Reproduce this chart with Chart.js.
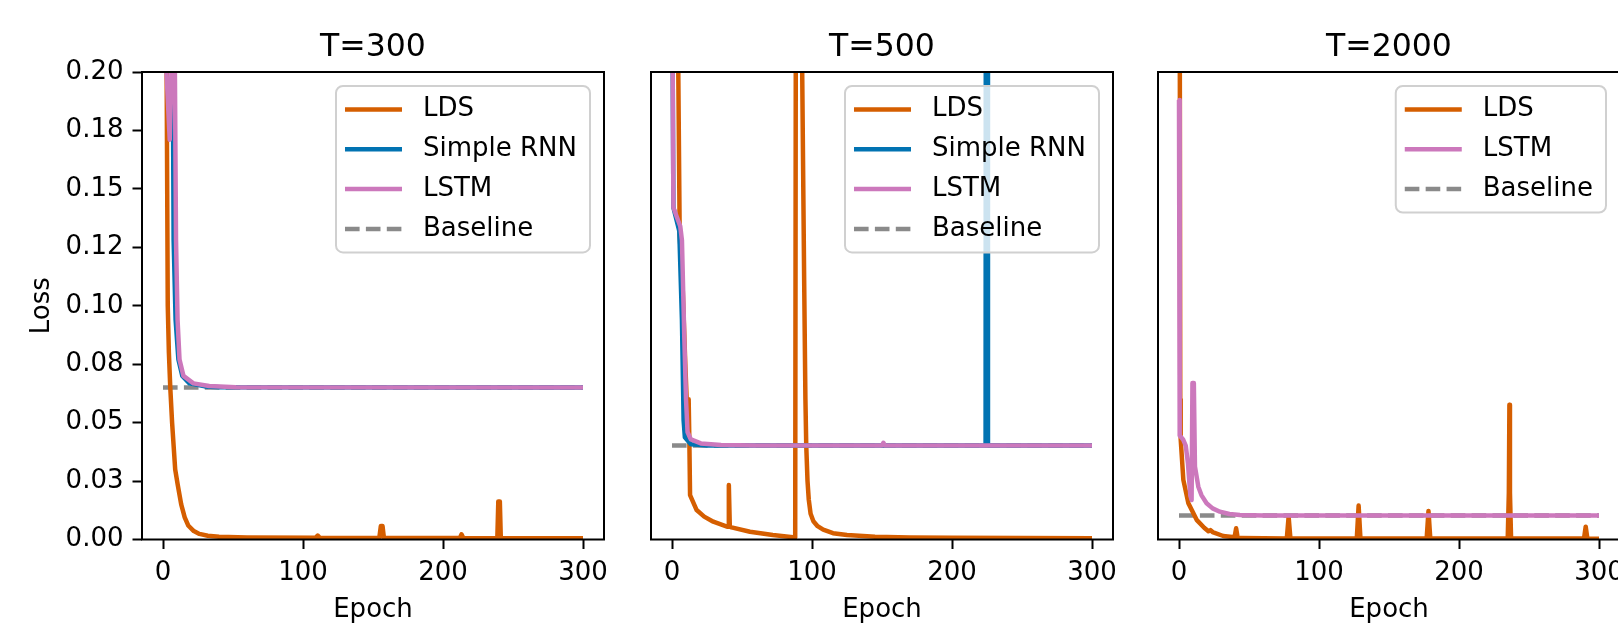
<!DOCTYPE html>
<html>
<head>
<meta charset="utf-8">
<script src="https://cdn.jsdelivr.net/npm/chart.js@4.4.1/dist/chart.umd.min.js"></script>
<style>
  html, body { margin: 0; padding: 0; background: #fff; overflow: hidden; }
  #wrap { position: relative; width: 1618px; height: 627px; overflow: hidden; }
  canvas { position: absolute; top: 0; }
</style>
</head>
<body>
<div id="wrap">
  <canvas id="c300" width="640" height="627" style="left:0px"></canvas>
  <canvas id="c500" width="640" height="627" style="left:509px"></canvas>
  <canvas id="c2000" width="640" height="627" style="left:1016px"></canvas>
</div>
<script>
// axis ticks
const epochTicks = [0, 100, 200, 300];
const lossTicks = [0, 0.025, 0.05, 0.075, 0.1, 0.125, 0.15, 0.175, 0.2];
const lossTickLabels = ['0.00', '0.03', '0.05', '0.08', '0.10', '0.12', '0.15', '0.18', '0.20'];
const panelTitles = ['T=300', 'T=500', 'T=2000'];

// T=300  [epoch, loss]
const lds300 = [[0, 0.9], [2.6, 0.2], [3.4, 0.1], [4.2, 0.08], [5.2, 0.065], [6.5, 0.05], [8.7, 0.03],
  [10.5, 0.0235], [13, 0.015], [15.5, 0.0095], [18, 0.006], [22, 0.0036], [26, 0.0024], [32, 0.0016],
  [40, 0.0012], [60, 0.0009], [109, 0.0007], [110.5, 0.0017], [112, 0.0007], [154.5, 0.0006],
  [155.6, 0.0058], [156.8, 0.0058], [157.8, 0.0006], [212, 0.0006], [213.2, 0.0022], [214.5, 0.0006],
  [238.8, 0.0005], [239.5, 0.0163], [240.6, 0.0163], [241.3, 0.0005], [300, 0.0005]];
const rnn300 = [[0, 0.35], [7, 0.2], [7.6, 0.128], [9, 0.094], [11, 0.077], [13.8, 0.07], [18.9, 0.0668],
  [30, 0.0655], [41, 0.0651], [300, 0.065]];
const lstm300 = [[0, 0.3], [2.5, 0.2], [4.8, 0.171], [6, 0.2], [7, 0.24], [8.5, 0.2], [9.3, 0.128],
  [10.4, 0.094], [11.8, 0.077], [14.6, 0.07], [21.7, 0.0668], [33, 0.0657], [52, 0.0651], [300, 0.065]];
const base300 = [[0, 0.065], [300, 0.065]];

// T=500
const lds500 = [[0, 0.6], [4.5, 0.2], [5.5, 0.13], [7.5, 0.11], [9.5, 0.075], [10.5, 0.06], [11.3, 0.043],
  [11.9, 0.06], [12.4, 0.042], [12.9, 0.019], [17.6, 0.0126], [23, 0.0098], [29.5, 0.0076], [39.3, 0.0055],
  [40, 0.0055], [40.6, 0.0233], [41.3, 0.0055], [42.5, 0.0052], [55.7, 0.0033], [72, 0.0019], [88, 0.0009],
  [88.6, 0.3], [90, 0.8], [92, 0.4], [93, 0.2], [94.4, 0.111], [95.3, 0.06], [95.9, 0.04], [96.8, 0.025],
  [97.7, 0.017], [99, 0.011], [101, 0.0078], [104, 0.0057], [108, 0.0042], [115, 0.0027], [125, 0.0019],
  [145, 0.0012], [170, 0.0009], [200, 0.0007], [300, 0.0005]];
const rnn500 = [[0, 0.6], [0.5, 0.2], [1, 0.142], [5.2, 0.132], [7.1, 0.094], [8.3, 0.051], [9.2, 0.0437],
  [13.5, 0.0407], [25, 0.0402], [224, 0.0402], [224.4, 0.6], [225.3, 0.6], [225.7, 0.0402], [300, 0.0402]];
const lstm500 = [[0, 0.6], [0.5, 0.2], [1, 0.142], [2.8, 0.139], [5.9, 0.134], [7.1, 0.128], [8.8, 0.086],
  [10, 0.06], [11.1, 0.046], [13.5, 0.0428], [20.6, 0.0411], [35, 0.0404], [60, 0.0402], [150, 0.0402],
  [151, 0.0414], [152, 0.0402], [300, 0.0402]];
const base500 = [[0, 0.0402], [300, 0.0402]];

// T=2000
const lds2000 = [[0, 0.9], [0.6, 0.2], [0.9, 0.06], [1.2, 0.043], [3.1, 0.0255], [6.7, 0.0155], [12.6, 0.0084],
  [18, 0.005], [21, 0.0035], [22.5, 0.004], [24, 0.0032], [31.6, 0.0015], [39.7, 0.001], [40.8, 0.0048],
  [41.9, 0.0008], [43.5, 0.0006], [77, 0.0004], [78.3, 0.0098], [79.6, 0.0004], [127, 0.0004], [128.3, 0.0145],
  [129.6, 0.0004], [176.9, 0.0004], [178.2, 0.0122], [179.5, 0.0004], [234.8, 0.0004], [235.6, 0.02],
  [236, 0.0576], [236.4, 0.02], [237.2, 0.0004], [289.3, 0.0004], [290.5, 0.0055], [291.7, 0.0004], [300, 0.0003]];
const lstm2000 = [[0, 0.188], [0.5, 0.0445], [2.9, 0.0428], [4.8, 0.0402], [6.4, 0.0325], [8.1, 0.0188],
  [9, 0.0169], [9.6, 0.0669], [10.6, 0.0669], [11.4, 0.0312], [13.8, 0.0226], [16, 0.019], [19.7, 0.0155],
  [24, 0.0133], [29.2, 0.0119], [36, 0.0109], [43.5, 0.0105], [60, 0.0103], [300, 0.0103]];
const base2000 = [[0, 0.0103], [300, 0.0103]];

const styles = {
  'LDS':        { color: '#D55E00', order: 2 },
  'Simple RNN': { color: '#0173B2', order: 1 },
  'LSTM':       { color: '#CC78BC', order: 0 },
  'Baseline':   { color: '#8a8a8a', order: 3, dash: [14.6, 6.3] }
};

const panels = [
  { id: 'c300', series: [['LDS', lds300], ['Simple RNN', rnn300], ['LSTM', lstm300], ['Baseline', base300]] },
  { id: 'c500', series: [['LDS', lds500], ['Simple RNN', rnn500], ['LSTM', lstm500], ['Baseline', base500]] },
  { id: 'c2000', series: [['LDS', lds2000], ['LSTM', lstm2000], ['Baseline', base2000]] }
];

const FONT = '"DejaVu Sans", sans-serif';

// spines + legend box inside the axes, drawn over the lines
const frameLegend = {
  id: 'frameLegend',
  afterDatasetsDraw(chart) {
    const {ctx, chartArea: a} = chart;
    ctx.save();
    ctx.strokeStyle = '#000';
    ctx.lineWidth = 2;
    ctx.strokeRect(a.left, a.top, a.right - a.left, a.bottom - a.top);

    const items = chart.data.datasets;
    ctx.font = '26px ' + FONT;
    const textW = Math.max(...items.map(d => ctx.measureText(d.label).width));
    const w = 87 + textW + 13;
    const h = 23.5 + (items.length - 1) * 39.8 + 23.5;
    const x = a.right - 14 - w, y = a.top + 14;
    ctx.beginPath();
    ctx.roundRect(x, y, w, h, 7);
    ctx.fillStyle = 'rgba(255,255,255,0.8)';
    ctx.fill();
    ctx.strokeStyle = '#d0d0d0';
    ctx.lineWidth = 2;
    ctx.stroke();
    items.forEach((d, i) => {
      const cy = y + 23.5 + i * 39.8;
      ctx.beginPath();
      ctx.setLineDash(d.borderDash || []);
      ctx.strokeStyle = d.borderColor;
      ctx.lineWidth = d.borderWidth;
      ctx.moveTo(x + 9, cy);
      ctx.lineTo(x + 66, cy);
      ctx.stroke();
      ctx.setLineDash([]);
      ctx.fillStyle = '#000';
      ctx.textBaseline = 'middle';
      ctx.textAlign = 'left';
      ctx.fillText(d.label, x + 87, cy);
    });
    ctx.restore();
  }
};

panels.forEach((p, k) => {
  const first = k === 0;
  new Chart(document.getElementById(p.id), {
    type: 'line',
    data: {
      datasets: p.series.map(([name, pts]) => ({
        label: name,
        data: pts.map(([x, y]) => ({x, y})),
        borderColor: styles[name].color,
        borderWidth: 4.5,
        borderDash: styles[name].dash || [],
        order: styles[name].order,
        pointRadius: 0,
        tension: 0,
        borderJoinStyle: 'round',
        clip: 0
      }))
    },
    options: {
      responsive: false,
      animation: false,
      events: [],
      layout: { padding: { left: 0, right: 36, top: 0, bottom: 0 } },
      plugins: {
        legend: { display: false },
        tooltip: { enabled: false },
        title: {
          display: true,
          fullSize: false,
          text: panelTitles[k],
          color: '#000',
          font: { family: FONT, size: 31.5, weight: 'normal', lineHeight: 1.2 },
          padding: { top: 29, bottom: 5.2 }
        }
      },
      scales: {
        x: {
          type: 'linear',
          min: -15,
          max: 315,
          afterFit: s => { s.height = 87.5; },
          afterBuildTicks: s => { s.ticks = epochTicks.map(v => ({ value: v })); },
          border: { display: false },
          grid: { drawOnChartArea: false, drawTicks: true, tickLength: 9.5, tickWidth: 2, tickColor: '#000', color: '#000' },
          ticks: { color: '#000', padding: 9, maxRotation: 0, font: { family: FONT, size: 26 }, callback: v => String(v) },
          title: { display: true, text: 'Epoch', color: '#000', font: { family: FONT, size: 26 }, padding: { top: 0, bottom: 1.4 } }
        },
        y: {
          type: 'linear',
          min: 0,
          max: 0.2,
          afterFit: s => { s.width = 142; },
          afterBuildTicks: s => { s.ticks = lossTicks.map(v => ({ value: v })); },
          border: { display: false },
          grid: { display: first, drawOnChartArea: false, drawTicks: true, tickLength: 9.5, tickWidth: 2, tickColor: '#000', color: '#000' },
          ticks: {
            display: first,
            color: '#000',
            padding: 9,
            font: { family: FONT, size: 26 },
            callback: v => lossTickLabels[lossTicks.indexOf(v)]
          },
          title: { display: first, text: 'Loss', color: '#000', font: { family: FONT, size: 26 }, padding: { top: 26.5, bottom: 0 } }
        }
      }
    },
    plugins: [frameLegend]
  });
});
</script>
</body>
</html>
